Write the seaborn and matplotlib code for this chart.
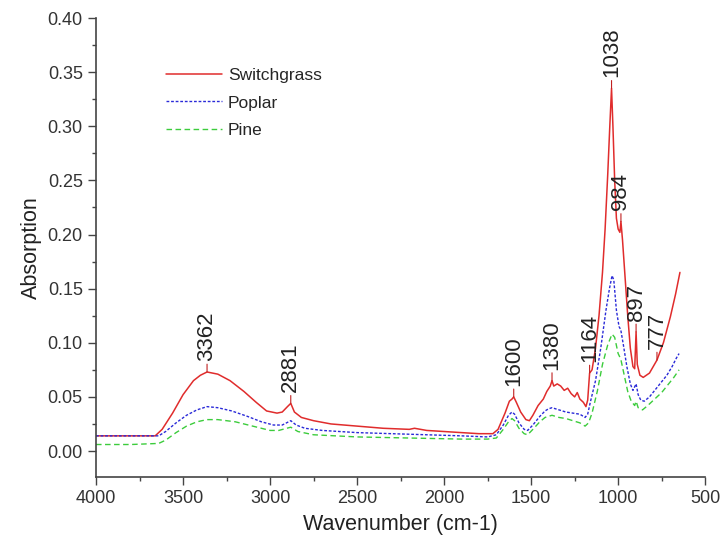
import matplotlib
matplotlib.use("Agg")
import matplotlib.pyplot as plt
from matplotlib.ticker import MultipleLocator
import numpy as np
import pandas as pd
import seaborn as sns

## Data
wn_switch = [4000, 3800, 3660, 3620, 3560, 3500, 3440, 3400, 3362, 3300, 3230, 3150,
             3080, 3020, 2960, 2930, 2900, 2881, 2860, 2820, 2750, 2650, 2500, 2350,
             2200, 2170, 2100, 2000, 1900, 1800, 1720, 1690, 1650, 1625, 1610, 1600,
             1585, 1560, 1530, 1510, 1490, 1460, 1430, 1410, 1390, 1380, 1370, 1350,
             1330, 1310, 1290, 1270, 1250, 1235, 1220, 1200, 1185, 1175, 1164, 1150,
             1130, 1110, 1090, 1075, 1060, 1048, 1038, 1030, 1020, 1010, 1000, 990,
             984, 975, 960, 945, 930, 915, 905, 897, 890, 875, 856, 820, 777, 740,
             700, 670, 645]
ab_switch = [0.014, 0.014, 0.014, 0.020, 0.035, 0.052, 0.065, 0.070, 0.073, 0.071, 0.065, 0.055,
             0.045, 0.037, 0.035, 0.036, 0.041, 0.044, 0.036, 0.031, 0.028, 0.025, 0.023, 0.021,
             0.020, 0.021, 0.019, 0.018, 0.017, 0.016, 0.016, 0.020, 0.035, 0.046, 0.048, 0.050,
             0.045, 0.036, 0.029, 0.028, 0.033, 0.042, 0.048, 0.055, 0.060, 0.065, 0.060, 0.062,
             0.060, 0.056, 0.058, 0.053, 0.050, 0.054, 0.048, 0.045, 0.041, 0.047, 0.072, 0.075,
             0.095, 0.125, 0.165, 0.205, 0.255, 0.300, 0.335, 0.300, 0.250, 0.215, 0.205, 0.202,
             0.212, 0.195, 0.160, 0.125, 0.095, 0.078, 0.076, 0.110, 0.080, 0.070, 0.068, 0.072,
             0.084, 0.100, 0.124, 0.145, 0.165]

wn_poplar = [4000, 3800, 3640, 3600, 3540, 3480, 3420, 3362, 3300, 3220, 3130, 3050,
             2980, 2930, 2881, 2850, 2800, 2700, 2500, 2300, 2100, 1900, 1750, 1700,
             1660, 1630, 1610, 1595, 1570, 1540, 1520, 1490, 1450, 1420, 1400, 1380,
             1340, 1300, 1260, 1220, 1190, 1175, 1160, 1130, 1100, 1070, 1050, 1035,
             1025, 1010, 995, 985, 970, 950, 930, 915, 897, 885, 870, 850, 820, 790,
             760, 720, 690, 665, 650]
ab_poplar = [0.014, 0.014, 0.014, 0.018, 0.026, 0.033, 0.038, 0.041, 0.040, 0.037, 0.032, 0.027,
             0.024, 0.024, 0.028, 0.024, 0.021, 0.019, 0.017, 0.016, 0.015, 0.014, 0.013, 0.015,
             0.024, 0.033, 0.036, 0.034, 0.026, 0.020, 0.019, 0.024, 0.032, 0.037, 0.039, 0.040,
             0.038, 0.036, 0.035, 0.034, 0.031, 0.034, 0.045, 0.065, 0.095, 0.130, 0.150, 0.162,
             0.158, 0.130, 0.115, 0.112, 0.098, 0.078, 0.062, 0.056, 0.062, 0.052, 0.047, 0.046,
             0.050, 0.056, 0.062, 0.070, 0.078, 0.086, 0.090]

wn_pine = [4000, 3800, 3640, 3600, 3540, 3480, 3420, 3362, 3300, 3200, 3100, 3000,
           2950, 2881, 2840, 2750, 2500, 2200, 1900, 1750, 1700, 1660, 1630, 1610,
           1595, 1570, 1540, 1520, 1490, 1450, 1420, 1380, 1340, 1300, 1260, 1220,
           1190, 1170, 1150, 1120, 1090, 1060, 1035, 1020, 1000, 985, 965, 945, 925,
           905, 897, 885, 860, 830, 790, 750, 710, 680, 650]
ab_pine = [0.006, 0.006, 0.007, 0.010, 0.017, 0.023, 0.027, 0.029, 0.029, 0.027, 0.023, 0.019,
           0.019, 0.022, 0.018, 0.015, 0.013, 0.012, 0.011, 0.011, 0.012, 0.020, 0.027, 0.030,
           0.028, 0.021, 0.016, 0.015, 0.020, 0.027, 0.031, 0.033, 0.031, 0.030, 0.028, 0.026,
           0.023, 0.026, 0.035, 0.055, 0.080, 0.098, 0.108, 0.105, 0.090, 0.085, 0.070, 0.055,
           0.046, 0.042, 0.046, 0.040, 0.038, 0.042, 0.048, 0.054, 0.062, 0.068, 0.075]

peak_wn = [3362, 2881, 1600, 1380, 1164, 1038, 984, 897, 777]
peak_ab = [0.073, 0.044, 0.050, 0.065, 0.072, 0.335, 0.212, 0.110, 0.084]
peak_lbl = ['3362', '2881', '1600', '1380', '1164', '1038', '984', '897', '777']

series = ['Switchgrass', 'Poplar', 'Pine']

##########################################################################

sns.set_style('ticks')
plt.rcParams['font.family'] = ['Liberation Sans', 'DejaVu Sans']
txt_col = '#222222'

fig, ax = plt.subplots(figsize=(7.24, 5.46), dpi=100)
fig.subplots_adjust(left=0.1326, right=0.974, bottom=0.1264, top=0.967)

sns.lineplot(x=wn_switch, y=ab_switch, ax=ax, color='#e02c2c', lw=1.1,
             label=series[0], sort=False)
sns.lineplot(x=wn_poplar, y=ab_poplar, ax=ax, color='#2a2ad8', lw=1.0,
             linestyle=(0, (2, 1.3)), label=series[1], sort=False)
sns.lineplot(x=wn_pine, y=ab_pine, ax=ax, color='#3ccc3c', lw=1.0,
             linestyle=(0, (4, 2.5)), label=series[2], sort=False)

# peak labels
for w, a, s in zip(peak_wn, peak_ab, peak_lbl):
    ax.annotate(s, xy=(w, a), xytext=(0, 8), textcoords='offset points',
                rotation=90, ha='center', va='bottom', fontsize=16, color=txt_col,
                arrowprops=dict(arrowstyle='-', color='#c02020', lw=0.8,
                                shrinkA=0, shrinkB=0))

ax.set_xlim(4000, 500)
ax.set_ylim(-0.024, 0.40)
ax.xaxis.set_major_locator(MultipleLocator(500))
ax.xaxis.set_minor_locator(MultipleLocator(250))
ax.yaxis.set_major_locator(MultipleLocator(0.05))
ax.yaxis.set_minor_locator(MultipleLocator(0.025))
ax.yaxis.set_major_formatter(plt.FormatStrFormatter('%.2f'))

ax.set_xlabel('Wavenumber (cm-1)', fontsize=15.5, color=txt_col, labelpad=5)
ax.set_ylabel('Absorption', fontsize=15.5, color=txt_col, labelpad=4)
ax.tick_params(axis='both', which='major', labelsize=13, length=6, width=1,
               color='#444444', labelcolor='#333333', direction='out')
ax.tick_params(axis='both', which='minor', length=3, width=1, color='#444444')

for sp in ['top', 'right']:
    ax.spines[sp].set_visible(False)
for sp in ['left', 'bottom']:
    ax.spines[sp].set_color('#444444')
    ax.spines[sp].set_linewidth(1.2)

ax.legend(loc='upper left', bbox_to_anchor=(0.09, 0.925), frameon=False,
          fontsize=12.5, handlelength=3.2, handletextpad=0.35, labelspacing=0.7)

fig.savefig('out.png', dpi=100)
